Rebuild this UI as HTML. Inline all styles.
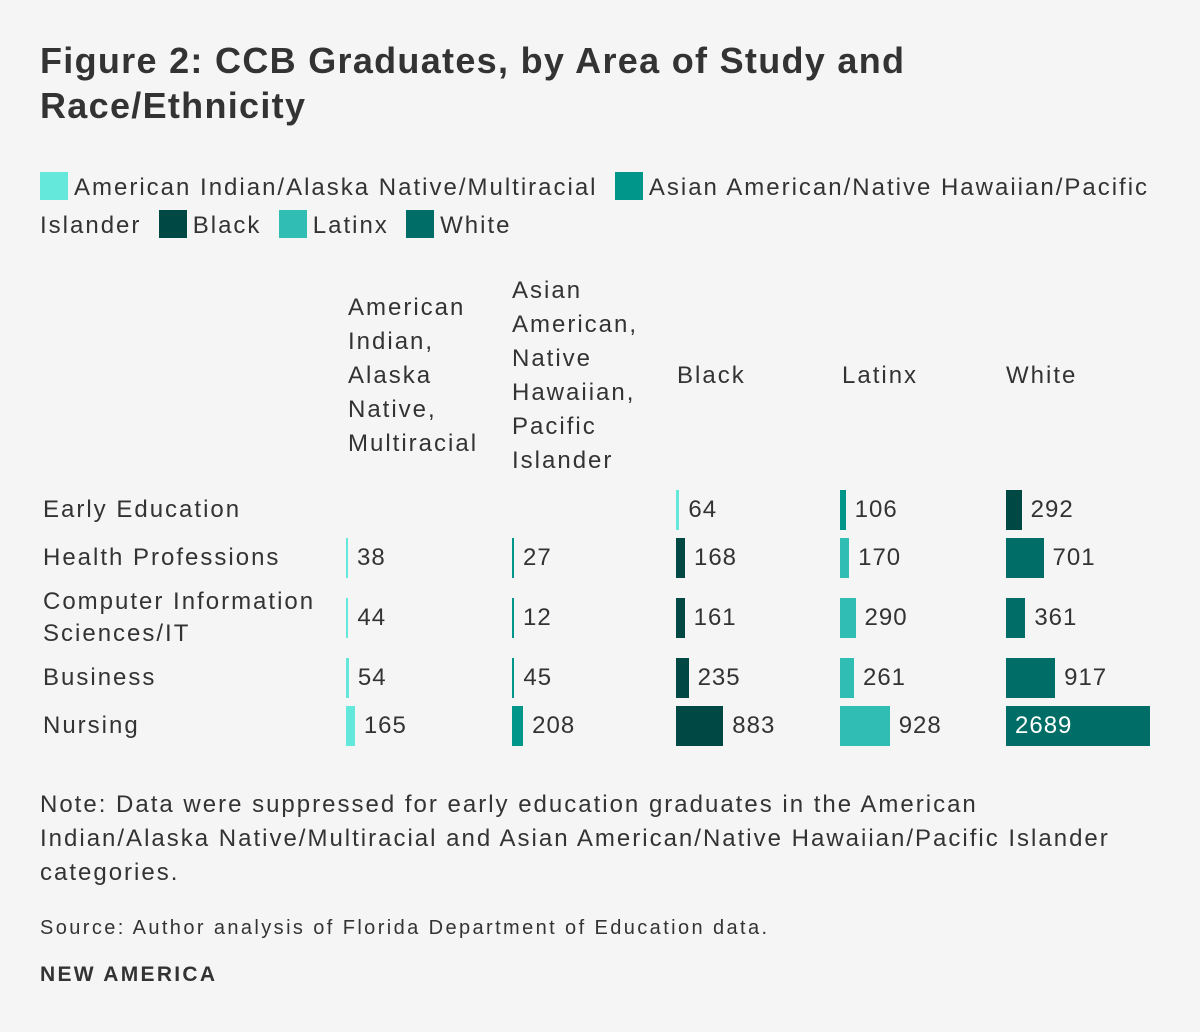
<!DOCTYPE html>
<html><head><meta charset="utf-8">
<style>
body{margin:0;background:#f5f5f5;}
#root{position:relative;width:1200px;height:1032px;background:#f5f5f5;font-family:"Liberation Sans",sans-serif;color:#333;overflow:hidden;letter-spacing:2px;}
.abs{position:absolute;white-space:nowrap;}
.title{left:40px;top:38px;font-size:36px;font-weight:bold;line-height:45px;color:#333;letter-spacing:1.3px;}
.leg{font-size:24px;line-height:38px;left:40px;top:169px;width:1140px;white-space:normal;}
.sw{display:inline-block;width:28px;height:28px;vertical-align:-5px;margin-right:6px;}
.hd{font-size:24px;line-height:34px;display:flex;align-items:center;height:204px;top:274px;white-space:normal;}
.rl{font-size:24px;line-height:32px;left:43px;}
.val{font-size:24px;line-height:40px;letter-spacing:1px;}
</style></head><body>
<div id="root">
<div class="abs title">Figure 2: CCB Graduates, by Area of Study and<br>Race/Ethnicity</div>
<div class="abs leg">
<span><span class="sw" style="background:#64e8dc"></span>American Indian/Alaska Native/Multiracial</span>&nbsp;
<span><span class="sw" style="background:#00968a"></span>Asian American/Native Hawaiian/Pacific Islander</span>&nbsp;
<span><span class="sw" style="background:#004843"></span>Black</span>&nbsp;
<span><span class="sw" style="background:#30bdb3"></span>Latinx</span>&nbsp;
<span><span class="sw" style="background:#006e66"></span>White</span>
</div>
<div class="abs hd" style="left:348px"><div>American<br>Indian,<br>Alaska<br>Native,<br>Multiracial</div></div>
<div class="abs hd" style="left:512px"><div>Asian<br>American,<br>Native<br>Hawaiian,<br>Pacific<br>Islander</div></div>
<div class="abs hd" style="left:677px"><div>Black</div></div>
<div class="abs hd" style="left:842px"><div>Latinx</div></div>
<div class="abs hd" style="left:1006px"><div>White</div></div>
<div class="abs rl" style="top:494px">Early Education</div>
<div class="abs rl" style="top:542px">Health Professions</div>
<div class="abs rl" style="top:586px">Computer Information<br>Sciences/IT</div>
<div class="abs rl" style="top:662px">Business</div>
<div class="abs rl" style="top:710px">Nursing</div>
<div id="bars"></div>
<div class="abs" style="left:40px;top:788px;font-size:24px;line-height:34px;letter-spacing:2px;">Note: Data were suppressed for early education graduates in the American<br>Indian/Alaska Native/Multiracial and Asian American/Native Hawaiian/Pacific Islander<br>categories.</div>
<div class="abs" style="left:40px;top:915px;font-size:20px;line-height:26px;letter-spacing:2.4px;">Source: Author analysis of Florida Department of Education data.</div>
<div class="abs" style="left:40px;top:962px;font-size:21px;font-weight:bold;line-height:26px;letter-spacing:2.3px;">NEW AMERICA</div>
</div>
<script>
const categories = ["Early Education","Health Professions","Computer Information Sciences/IT","Business","Nursing"];
const groups = ["aian","aanhpi","black","latinx","white"];
const aian = [null,38,44,54,165];
const aanhpi = [null,27,12,45,208];
const black = [64,168,161,235,883];
const latinx = [106,170,290,261,928];
const white = [292,701,361,917,2689];
const series = [aian,aanhpi,black,latinx,white];
const colors = ["#64e8dc","#00968a","#004843","#30bdb3","#006e66"];
const rowTop = [490,538,598,658,706];
const colLeft = [346,512,676,840,1006];
const maxVal = Math.max(...series.flat().filter(v=>v!=null));
function xScale(v){return Math.max(2, v/maxVal*144);}
const host = document.getElementById('bars');
categories.forEach((cat,r)=>{
  let k=0;
  series.forEach((s,c)=>{
    const v=s[r];
    if(v==null) return;
    const w=xScale(v);
    const b=document.createElement('div');
    b.className='abs';
    
    
    b.style.cssText=`left:${colLeft[c]}px;top:${rowTop[r]}px;width:${w}px;height:40px;background:${colors[k]}`;
    host.appendChild(b);
    const t=document.createElement('div');
    t.className='abs val';
    
    
    t.textContent=v;
    const inside = v===maxVal;
    t.style.cssText=`top:${rowTop[r]}px;left:${inside?colLeft[c]+9:colLeft[c]+w+9}px;color:${inside?'#fff':'#333'}`;
    host.appendChild(t);
    k++;
  });
});
</script>
</body></html>
